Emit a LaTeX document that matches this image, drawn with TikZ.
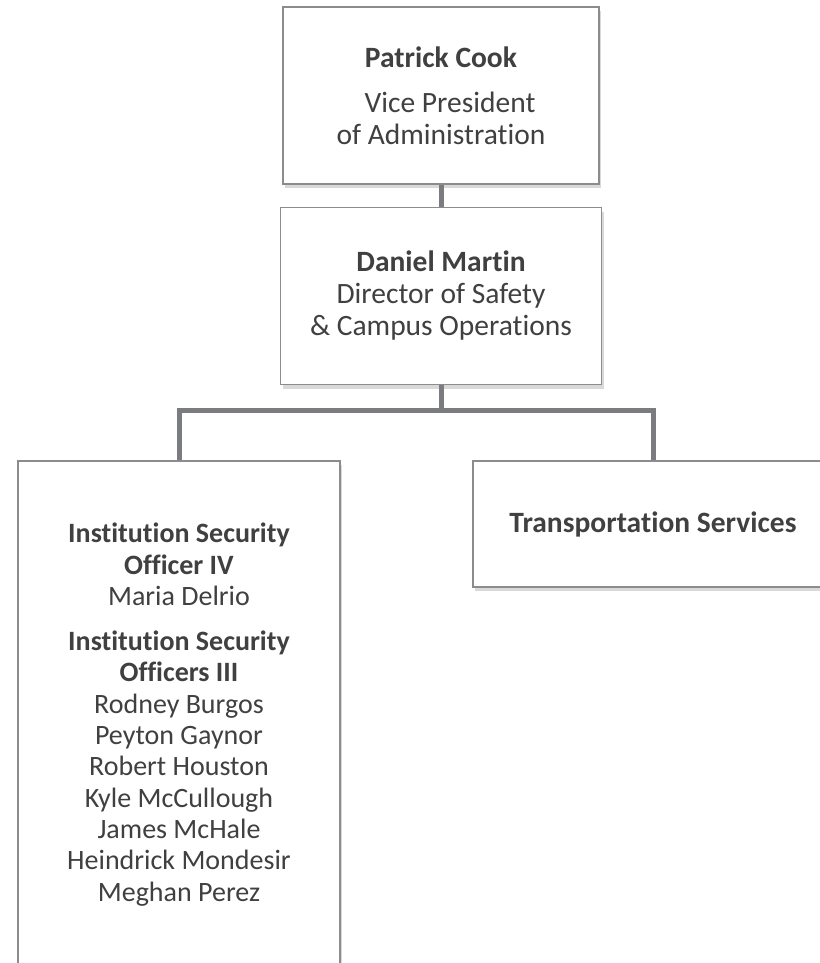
\documentclass[tikz,border=0pt]{standalone}
\usepackage{fontspec}
\setmainfont{Carlito}[Ligatures=NoCommon]
\usepackage{tikz}
\usetikzlibrary{positioning, shadows}
\definecolor{boxgray}{HTML}{8C8C8C}
\definecolor{linegray}{HTML}{7B7C80}
\definecolor{textgray}{HTML}{404040}

\begin{document}
\begin{tikzpicture}[x=1pt, y=1pt,
	box/.style={draw=boxgray, line width=1.5pt, fill=white, align=center, text=textgray, font=\fontsize{29.5}{32}\selectfont, drop shadow={shadow xshift=2pt, shadow yshift=-4pt, opacity=0.15, fill=black}},
	conn/.style={draw=linegray, line width=5pt}]
		
		\useasboundingbox (0,0) rectangle (819,-963);
		
		\node (1) [box, minimum width=316pt, minimum height=177pt] at (441,-95.5) {\textbf{Patrick Cook}\\[13pt]\hspace*{18pt}Vice President\\of Administration};
		\node (2) [box, minimum width=321pt, minimum height=177pt, below=22pt of 1] {\textbf{Daniel Martin}\\Director of Safety\\\& Campus Operations};
		\node (3) [box, minimum width=322pt, minimum height=507pt, below=75pt of 2, xshift=-262pt, font=\fontsize{28}{31.3}\selectfont] {\textbf{Institution Security}\\\textbf{Officer IV}\\Maria Delrio\\[14pt]\textbf{Institution Security}\\\textbf{Officers III}\\Rodney Burgos\\Peyton Gaynor\\Robert Houston\\Kyle McCullough\\James McHale\\Heindrick Mondesir\\Meghan Perez};
		\node (4) [box, minimum width=360pt, minimum height=126pt, below=75pt of 2, xshift=212pt] {\textbf{Transportation Services}};
		
		\draw[conn] (1) -- (2);
		\draw[conn] (2.south) -- ++(0,-25) -| (3.north);
		\draw[conn] (2.south) -- ++(0,-25) -| (4.north);
		
\end{tikzpicture}
\end{document}
